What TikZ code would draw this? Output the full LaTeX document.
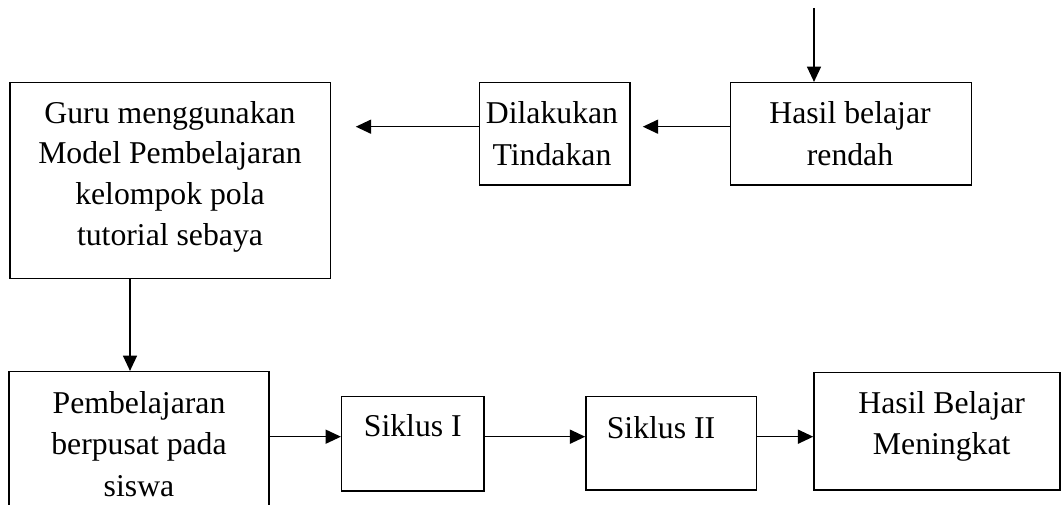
\documentclass[tikz,border=0pt]{standalone}
\usepackage{fontspec}
\setmainfont{Liberation Serif}
\usetikzlibrary{arrows.meta,fit,calc}
\begin{document}
\begin{tikzpicture}[x=0.75pt,y=-0.75pt,
  box/.style={draw, line width=1.15pt, inner sep=0pt, rectangle},
  arr/.style={line width=1.15pt, -{Triangle[length=11.5pt,width=10.5pt]}},
  txt/.style={anchor=base, inner sep=0pt, font=\fontsize{23.8}{30.5}\selectfont}]
\useasboundingbox (0,0) rectangle (1063,505);
\clip (0,0) rectangle (1063,505);
% boxes
\node[box, fit={(10,82.7) (330.7,278.7)}] (guru) {};
\node[box, fit={(479.3,82.7) (630,185)}] (dilak) {};
\node[box, fit={(730.7,82.7) (971.7,185)}] (hasil) {};
\node[box, fit={(9,371.7) (269,540)}] (pemb) {};
\node[box, fit={(341.7,396.7) (484,491)}] (sik1) {};
\node[box, fit={(586,396.7) (756.7,490)}] (sik2) {};
\node[box, fit={(814,372.7) (1060,490)}] (meningkat) {};
% texts
\node[txt] (g1) at (170,123.3) {Guru menggunakan};
\node[txt] (g2) at (170,164) {Model Pembelajaran};
\node[txt] (g3) at (170,205) {kelompok pola};
\node[txt] (g4) at (170,246) {tutorial sebaya};
\node[txt] (d1) at (552,124) {Dilakukan};
\node[txt] (d2) at (552,165.7) {Tindakan};
\node[txt] (h1) at (850,124) {Hasil belajar};
\node[txt] (h2) at (850,165.7) {rendah};
\node[txt] (p1) at (139,413.3) {Pembelajaran};
\node[txt] (p2) at (139,455) {berpusat pada};
\node[txt] (p3) at (139,496.7) {siswa};
\node[txt] (s1) at (412.8,436.7) {Siklus I};
\node[txt] (s2) at (661,438.3) {Siklus II};
\node[txt] (m1) at (941.7,413.3) {Hasil Belajar};
\node[txt] (m2) at (941.7,455) {Meningkat};
% helper coordinates
\coordinate (ttop) at (814,8);
\coordinate (r1) at (0,126.7);
\coordinate (c1) at (130,0);
\coordinate (r2) at (0,436.7);
% connectors
\draw[arr] (ttop) -- (ttop |- hasil.north);
\draw[arr] (hasil.west |- r1) -- ($(dilak.east |- r1)+(12,0)$);
\draw[arr] (dilak.west |- r1) -- ($(guru.east |- r1)+(24.3,0)$);
\draw[arr] (guru.south -| c1) -- (pemb.north -| c1);
\draw[arr] (pemb.east |- r2) -- (sik1.west |- r2);
\draw[arr] (sik1.east |- r2) -- (sik2.west |- r2);
\draw[arr] (sik2.east |- r2) -- (meningkat.west |- r2);
\end{tikzpicture}
\end{document}
